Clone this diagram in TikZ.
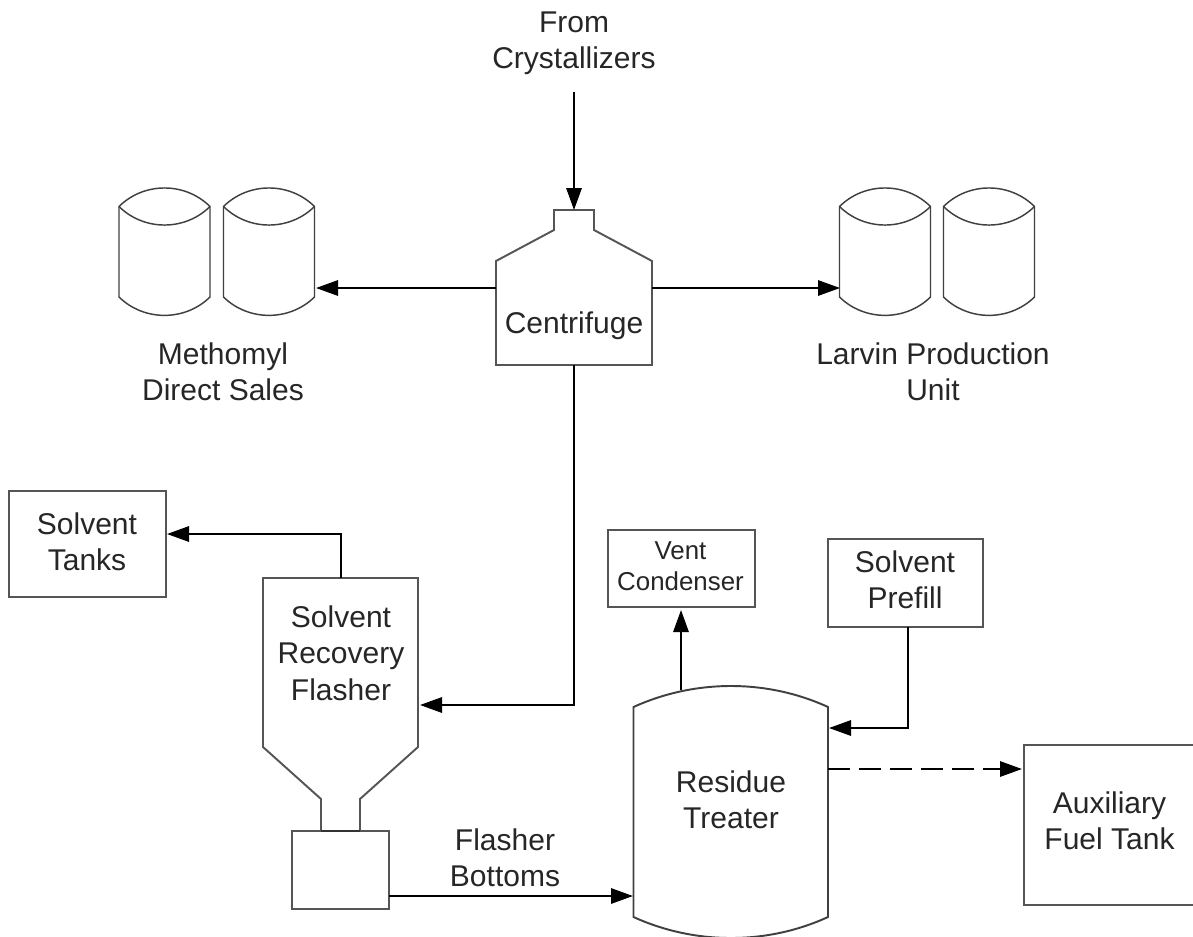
\documentclass[tikz,border=0pt]{standalone}
\usepackage{fontspec}
\setmainfont{Liberation Sans}
\usetikzlibrary{arrows.meta}
\definecolor{shapeline}{HTML}{555555}
\definecolor{tankline}{HTML}{404040}
\definecolor{txt}{HTML}{262626}
\tikzset{
  x=0.75pt,y=-0.75pt,
  shapeln/.style={draw=shapeline,line width=1.45pt,line join=miter},
  tankln/.style={draw=tankline,line width=1.1pt,line join=miter},
  boxn/.style={shapeln,fill=white,inner sep=0pt},
  lbl/.style={inner sep=0pt,align=center,text=txt,font=\fontsize{22.5}{27.3}\selectfont},
  smalllbl/.style={inner sep=0pt,align=center,text=txt,font=\fontsize{19.4}{23.4}\selectfont},
  flow/.style={draw=black,line width=1.5pt,-{Triangle[length=16.5pt,width=11.5pt]}},
}
\newcommand{\tankdraw}[1]{%
  \begin{scope}[shift={(#1,0)}]
    \draw[tankln] (0,206.5) .. controls (25,181.8) and (66,181.8) .. (91,206.5)
      -- (91,297) .. controls (66,321.5) and (25,321.5) .. (0,297) -- cycle;
    \draw[tankln] (0,206.5) .. controls (25,231.2) and (66,231.2) .. (91,206.5);
  \end{scope}}
\begin{document}
\begin{tikzpicture}
\useasboundingbox (0,0) rectangle (1193,936);
% tanks
\tankdraw{119}\tankdraw{223.5}\tankdraw{839.5}\tankdraw{943.5}
\coordinate (methomyl) at (316,288);
\coordinate (larvin) at (840,288);
% centrifuge
\draw[shapeln] (496,261) -- (554,230) -- (554,210) -- (594,210) -- (594,230) -- (652,261)
  -- (652,365) -- (496,365) -- cycle;
\node[lbl] (centlabel) at (574,326) {Centrifuge};
\coordinate (centtop) at (574,210);
\coordinate (centleft) at (496,288);
\coordinate (centright) at (652,288);
\coordinate (centbottom) at (574,365);
\coordinate (crystal) at (574,92);
% flasher
\draw[shapeln] (263,578) -- (418,578) -- (418,747) -- (360,799) -- (360,831) -- (321,831)
  -- (321,799) -- (263,747) -- cycle;
\node[lbl] (flasherlabel) at (341,653) {Solvent\\Recovery\\Flasher};
\coordinate (flashertop) at (341,578);
\coordinate (flasherright) at (420,705);
% bottom box
\node[boxn,minimum width=97pt*0.75,minimum height=78pt*0.75] (pot) at (340.5,870) {};
\coordinate (potright) at (389,896);
\draw[line width=1.6pt,draw=black!80] (321,831) -- (360,831);
% residue treater
\draw[shapeln,draw=tankline] (633.5,707) .. controls (695,679) and (767,679) .. (828,707)
  -- (828,917) .. controls (767,945) and (695,945) .. (633.5,917) -- cycle;
\node[lbl] (treaterlabel) at (731,799.5) {Residue\\Treater};
\coordinate (treaterleft) at (633,896);
\coordinate (treatertop) at (681,690);
\coordinate (treaterprefill) at (829,728);
\coordinate (treaterdash) at (828,769);
% boxes
\node[boxn,minimum width=156.5pt*0.75,minimum height=106pt*0.75] (tanks) at (87.3,544) {};
\node[lbl] (tankslabel) at (87,542) {Solvent\\Tanks};
\coordinate (tanksin) at (167,534);
\node[boxn,minimum width=147pt*0.75,minimum height=77pt*0.75] (vent) at (681.5,568.5) {};
\node[smalllbl] (ventlabel) at (680.5,566) {Vent\\Condenser};
\coordinate (ventin) at (681,610);
\node[boxn,minimum width=155pt*0.75,minimum height=88pt*0.75] (prefill) at (905.5,583) {};
\node[lbl] (prefilllabel) at (905,579.5) {Solvent\\Prefill};
\coordinate (prefillout) at (908,627);
\node[boxn,minimum width=175pt*0.75,minimum height=160pt*0.75,anchor=north west] (aux) at (1023,744) {};
\node[lbl] (auxlabel) at (1109.5,820.5) {Auxiliary\\Fuel Tank};
\coordinate (auxin) at (1022,769);
% labels
\node[lbl] (fromlabel) at (574,43) {From\\Crystallizers};
\node[lbl] (methlabel) at (223,371.5) {Methomyl\\Direct Sales};
\node[lbl] (larvlabel) at (933,371.5) {Larvin Production\\Unit};
\node[lbl] (bottomslabel) at (505,858) {Flasher\\Bottoms};
% connectors
\draw[flow] (crystal) -- (centtop);
\draw[flow] (centleft) -- (methomyl);
\draw[flow] (centright) -- (larvin);
\draw[flow] (centbottom) |- (flasherright);
\draw[flow] (flashertop) |- (tanksin);
\draw[flow] (potright) -- (treaterleft);
\draw[flow] (treatertop) -- (ventin);
\draw[flow] (prefillout) |- (treaterprefill);
\draw[flow,dash pattern=on 16.3pt off 7pt] (treaterdash) -- (auxin);
\end{tikzpicture}
\end{document}
